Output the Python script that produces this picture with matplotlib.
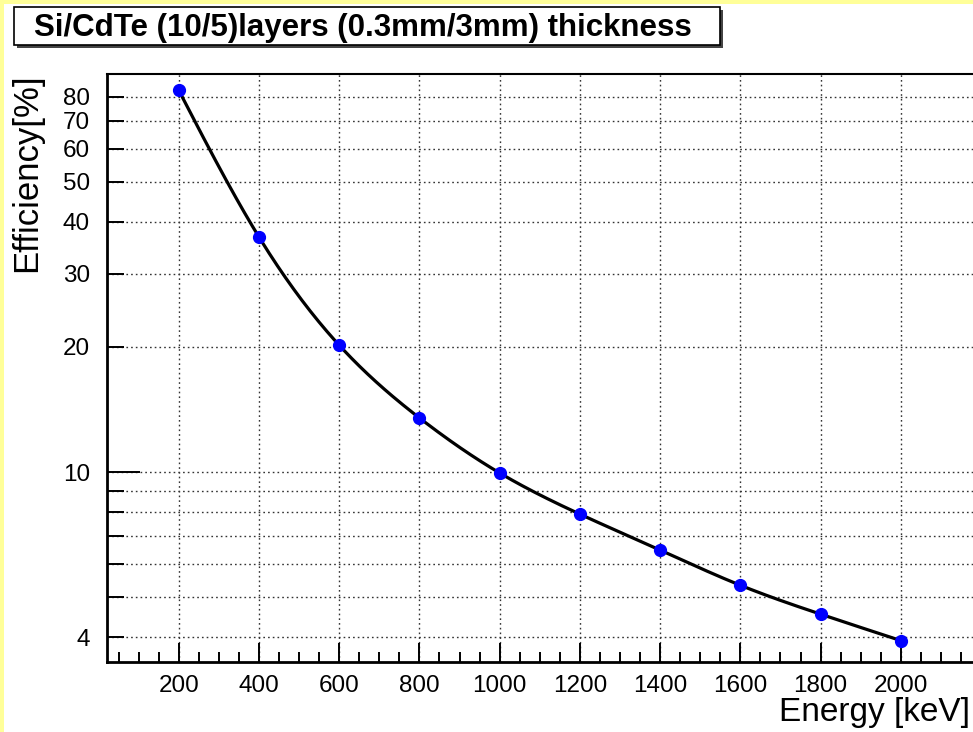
import numpy as np
import matplotlib
matplotlib.use("Agg")
import matplotlib.pyplot as plt
from matplotlib.patches import Rectangle
from matplotlib.ticker import FixedLocator, FuncFormatter

plt.rcParams['font.family'] = ['Liberation Sans', 'DejaVu Sans']

# ---- data ----
energy_kev = [200, 400, 600, 800, 1000, 1200, 1400, 1600, 1800, 2000]
efficiency = [83.0, 36.8, 20.2, 13.5, 9.95, 7.92, 6.49, 5.34, 4.55, 3.93]
x_tick_values = [200, 400, 600, 800, 1000, 1200, 1400, 1600, 1800, 2000]
y_labelled = [4, 10, 20, 30, 40, 50, 60, 70, 80]
y_grid = [4, 5, 6, 7, 8, 9, 10, 20, 30, 40, 50, 60, 70, 80]
title = "Si/CdTe (10/5)layers (0.3mm/3mm) thickness"
xlabel = "Energy [keV]"
ylabel = "Efficiency[%]"

W, H = 973, 732
fig = plt.figure(figsize=(W / 100, H / 100), dpi=100)
fig.patch.set_facecolor('#ffff99')
# white canvas inside the yellow frame
fig.patches.append(Rectangle((4 / W, 0), 1, 1 - 4 / H, transform=fig.transFigure,
                             facecolor='white', edgecolor='none', zorder=-5))

ax = fig.add_axes([106.5 / W, 1 - 662 / H, (973 - 106.5) / W, (662 - 74) / H])
ax.set_zorder(2)
ax.patch.set_facecolor('white')
ax.set_yscale('log')
ax.set_xlim(20, 2180)
ax.set_ylim(3.49, 90.8)

# smooth curve through the points (natural cubic spline in x vs log y)
xs = np.array(energy_kev, dtype=float)
ys = np.log10(np.array(efficiency))
n = len(xs)
h = np.diff(xs)
A = np.zeros((n, n)); b = np.zeros(n)
A[0, 0] = A[-1, -1] = 1
for i in range(1, n - 1):
    A[i, i - 1] = h[i - 1]; A[i, i] = 2 * (h[i - 1] + h[i]); A[i, i + 1] = h[i]
    b[i] = 3 * ((ys[i + 1] - ys[i]) / h[i] - (ys[i] - ys[i - 1]) / h[i - 1])
c = np.linalg.solve(A, b)
xf, yf = [], []
for i in range(n - 1):
    bi = (ys[i + 1] - ys[i]) / h[i] - h[i] * (2 * c[i] + c[i + 1]) / 3
    di = (c[i + 1] - c[i]) / (3 * h[i])
    t = np.linspace(0, h[i], 40)
    xf.extend(xs[i] + t)
    yf.extend(ys[i] + bi * t + c[i] * t ** 2 + di * t ** 3)
ax.plot(xf, 10 ** np.array(yf), color='black', lw=2.3, zorder=3, solid_capstyle='round')
ax.plot(energy_kev, efficiency, 'o', color='#0000ff', ms=8.5, mec='#0000ff', zorder=4, linestyle='none')

# x ticks
ax.xaxis.set_major_locator(FixedLocator(x_tick_values + [2200]))
ax.xaxis.set_minor_locator(FixedLocator(list(range(50, 2200, 50))))
ax.set_xticklabels([str(v) for v in x_tick_values] + [''])
ax.tick_params(axis='x', which='major', direction='in', length=14, width=1.4, pad=9, labelsize=17.5)
ax.tick_params(axis='x', which='minor', direction='in', length=7, width=1.4)

# y ticks
ax.yaxis.set_major_locator(FixedLocator([10]))
ax.yaxis.set_minor_locator(FixedLocator([v for v in y_grid if v != 10]))
ax.yaxis.set_major_formatter(FuncFormatter(lambda v, p: '%g' % v))
ax.yaxis.set_minor_formatter(FuncFormatter(lambda v, p: ('%g' % v) if round(v) in y_labelled else ''))
ax.tick_params(axis='y', which='major', direction='in', length=24, width=1.4, pad=12, labelsize=17.5)
ax.tick_params(axis='y', which='minor', direction='in', length=12, width=1.4, pad=12, labelsize=17.5)

# grid
ax.grid(True, which='major', axis='x', linestyle=(0, (1.2, 2.2)), color='#333333', lw=1.0)
ax.grid(True, which='both', axis='y', linestyle=(0, (1.2, 2.2)), color='#333333', lw=1.0)
ax.set_axisbelow(True)

for s in ['left', 'bottom']:
    ax.spines[s].set_linewidth(2.0)
ax.spines['top'].set_linewidth(1.5)
ax.spines['right'].set_visible(False)

fig.text(970 / W, 1 - 712 / H, xlabel, ha='right', va='center', fontsize=24)
fig.text(27 / W, 1 - 73 / H, ylabel, ha='center', va='top', rotation=90, fontsize=25)

# title box with shadow
bx0, bx1, by0, by1 = 14, 720, 7, 45
fig.patches.append(Rectangle(((bx0 + 3) / W, 1 - (by1 + 3) / H), (bx1 - bx0) / W, (by1 - by0) / H,
                             transform=fig.transFigure, facecolor='#444444', edgecolor='none', zorder=1))
fig.patches.append(Rectangle((bx0 / W, 1 - by1 / H), (bx1 - bx0) / W, (by1 - by0) / H,
                             transform=fig.transFigure, facecolor='white', edgecolor='black', lw=1.2, zorder=2))
fig.text(363 / W, 1 - 28 / H, title, ha='center', va='center',
         fontsize=22.5, fontweight='bold', zorder=3)

fig.savefig('out.png', dpi=100, facecolor=fig.get_facecolor())
